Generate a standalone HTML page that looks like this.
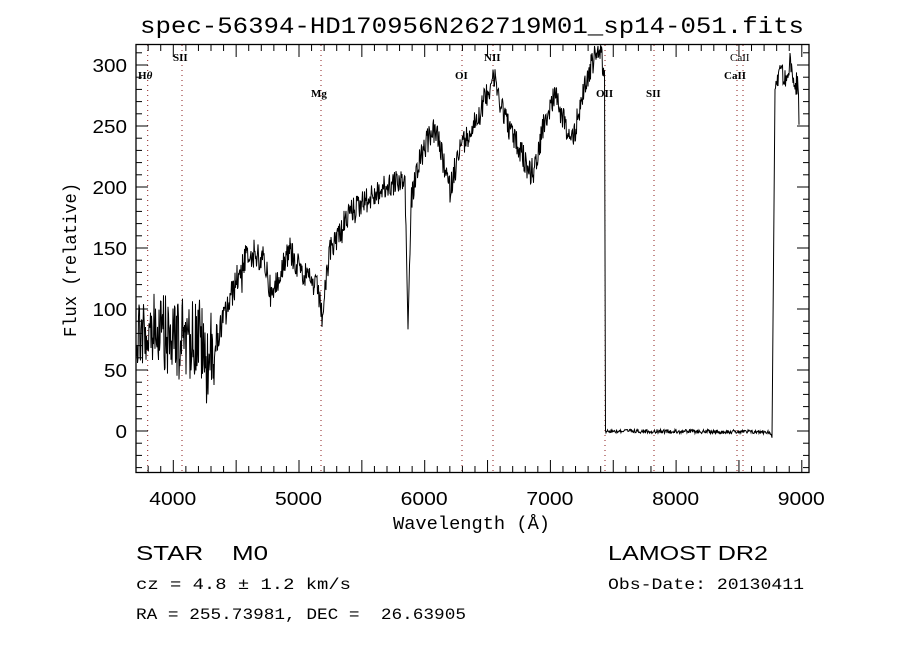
<!DOCTYPE html>
<html><head><meta charset="utf-8"><style>
html,body{margin:0;padding:0;background:#fff;}
svg{display:block;}
text{font-family:"Liberation Serif",serif;fill:#000;}
text.s{font-family:"Liberation Sans",sans-serif;font-weight:normal;}
text.m{font-family:"Liberation Mono",monospace;}
</style></head><body>
<svg id="c" width="900" height="650" xmlns="http://www.w3.org/2000/svg">
<rect width="900" height="650" fill="#fff"/>
<text x="140" y="33" font-size="23" class="m" textLength="664" lengthAdjust="spacingAndGlyphs">spec-56394-HD170956N262719M01_sp14-051.fits</text>
<g id="dots" stroke="#8b1a1a" stroke-width="1" stroke-dasharray="1,4"></g>
<g font-size="11" font-weight="bold">
<text x="138" y="79">H<tspan font-style="italic">θ</tspan></text>
<text x="173" y="61">SII</text>
<text x="311" y="97">Mg</text>
<text x="455" y="79">OI</text>
<text x="484" y="61">NII</text>
<text x="596" y="97">OII</text>
<text x="646" y="97">SII</text>
<text x="730" y="61" font-weight="normal">CaII</text>
<text x="724" y="79">CaII</text>
</g>
<path id="spec" fill="none" stroke="#000" stroke-width="1"/>
<rect x="136" y="44.5" width="673" height="428" fill="none" stroke="#000" stroke-width="1.3"/>
<g id="ticks" stroke="#000" stroke-width="1"></g>
<g id="labs" font-size="18"></g>
<text x="393" y="529" font-size="18" class="m" textLength="157" lengthAdjust="spacingAndGlyphs">Wavelength (Å)</text>
<text transform="translate(76,337) rotate(-90)" font-size="18" class="m" textLength="154" lengthAdjust="spacingAndGlyphs">Flux (relative)</text>
<text x="136" y="560" font-size="20" class="s" textLength="132" lengthAdjust="spacingAndGlyphs" xml:space="preserve">STAR    M0</text>
<text x="608" y="560" font-size="20" class="s" textLength="160" lengthAdjust="spacingAndGlyphs">LAMOST DR2</text>
<text x="136" y="589" font-size="16" class="m" textLength="215" lengthAdjust="spacingAndGlyphs">cz = 4.8 ± 1.2 km/s</text>
<text x="608" y="589" font-size="16" class="m" textLength="196" lengthAdjust="spacingAndGlyphs">Obs-Date: 20130411</text>
<text x="136" y="619" font-size="16" class="m" textLength="330" lengthAdjust="spacingAndGlyphs" xml:space="preserve">RA = 255.73981, DEC =  26.63905</text>
</svg>
<script>
var NS="http://www.w3.org/2000/svg";
function el(p,n,a){var e=document.createElementNS(NS,n);for(var k in a)e.setAttribute(k,a[k]);p.appendChild(e);return e;}
var d=document.getElementById('dots');
[147.7,182,321,462,493,605,654,737,743].forEach(function(x){el(d,'line',{x1:x,y1:45,x2:x,y2:472});});
var t=document.getElementById('ticks'),L=document.getElementById('labs');
function X(l){return 173.3+(l-4000)*0.1257;}
for(var l=3700;l<=9100;l+=100){var x=X(l);if(x<136||x>809)continue;var h=l%500==0?12:6;
el(t,'line',{x1:x,y1:472,x2:x,y2:472-h});el(t,'line',{x1:x,y1:45,x2:x,y2:45+h});
if(l%1000==0){var tx=el(L,'text',{x:x-24,y:505,'class':'s',textLength:47,lengthAdjust:'spacingAndGlyphs'});tx.textContent=l;}}
function Y(f){return 431-f*1.22;}
for(var f=-30;f<=310;f+=10){var y=Y(f);if(y<45||y>472)continue;var h=f%50==0?12:6;
el(t,'line',{x1:136,y1:y,x2:136+h,y2:y});el(t,'line',{x1:809,y1:y,x2:809-h,y2:y});
if(f%50==0&&f>=0){var s0=String(f);var w=s0.length*11.5;var tx=el(L,'text',{x:127-w,y:y+7,'class':'s',textLength:w,lengthAdjust:'spacingAndGlyphs'});tx.textContent=s0;}}
var A=[[136,330],[175,340],[200,335],[205,365],[220,330],[240,270],[250,252],[265,262],[272,300],[280,268],[290,250],[300,270],[318,290],[322,318],[330,250],[350,212],[370,198],[390,185],[405,178],[408,330],[411,200],[420,160],[432,130],[437,135],[445,170],[450,190],[460,150],[470,130],[480,112],[490,85],[493,75],[500,100],[510,130],[520,150],[530,172],[535,168],[545,120],[555,92],[560,110],[570,140],[575,130],[585,85],[595,55],[600,50],[604.5,70],[605.5,431],[770,432],[772,438],[775,90],[780,68],[785,80],[790,62],[795,88],[798,85],[799,118]];
function base(x){for(var i=0;i<A.length-1;i++){if(x>=A[i][0]&&x<=A[i+1][0]){var r=(x-A[i][0])/(A[i+1][0]-A[i][0]);return A[i][1]+r*(A[i+1][1]-A[i][1]);}}return 431;}
var s=12345;function rnd(){s=(s*1103515245+12345)%2147483648;return s/2147483648-0.5;}
var p=[];
for(var x=136;x<=799;x+=0.5){var y=base(x);var amp=x<215?85:(x<300?30:(x<605?26:(x<772?4:20)));
if(Math.abs(x-408)<2||Math.abs(x-605)<1||Math.abs(x-773)<3)amp=2;
y+=rnd()*amp;if(rnd()>0.45&&amp>10)y+=rnd()*amp;if(y<46)y=46;p.push((p.length?'L':'M')+x.toFixed(1)+' '+y.toFixed(1));}
document.getElementById('spec').setAttribute('d',p.join(''));
</script>
</body></html>
